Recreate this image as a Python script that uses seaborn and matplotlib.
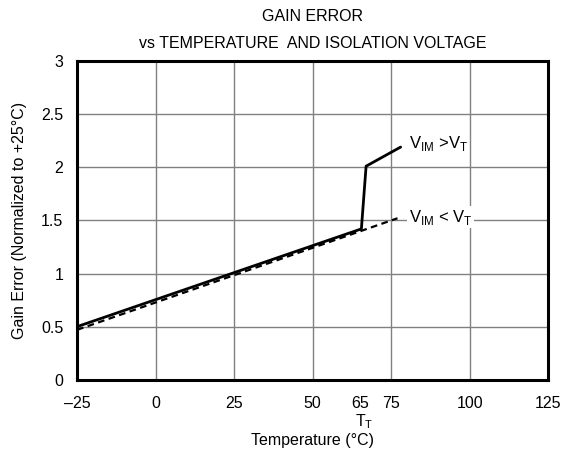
import matplotlib
matplotlib.use('Agg')
import matplotlib.pyplot as plt
import seaborn as sns
import pandas as pd

# solid curve: V_IM > V_T
temp_hi = [-25, 65.5, 67, 78]
gain_hi = [0.50, 1.42, 2.01, 2.19]
# dashed curve: V_IM < V_T
temp_lo = [-25, 77]
gain_lo = [0.47, 1.52]

xticks = [-25, 0, 25, 50, 65, 75, 100, 125]
xtick_labels = ['\u201325', '0', '25', '50', '65', '75', '100', '125']
yticks = [0, 0.5, 1, 1.5, 2, 2.5, 3]
ytick_labels = ['0', '0.5', '1', '1.5', '2', '2.5', '3']

sns.set_theme(style="white")
plt.rcParams['font.family'] = ['Liberation Sans', 'DejaVu Sans']
plt.rcParams['text.color'] = 'black'
plt.rcParams['axes.labelcolor'] = 'black'
plt.rcParams['xtick.color'] = 'black'
plt.rcParams['ytick.color'] = 'black'

fs = 11.5
fig = plt.figure(figsize=(5.67, 4.62), dpi=100)
ax = fig.add_axes([0.136, 0.178, 0.831, 0.69])

df_hi = pd.DataFrame({'t': temp_hi, 'g': gain_hi})
df_lo = pd.DataFrame({'t': temp_lo, 'g': gain_lo})

# grid lines (no line at 65)
for x in [0, 25, 50, 75, 100]:
    ax.axvline(x, color='#808080', lw=1, zorder=1)
for y in [0.5, 1, 1.5, 2, 2.5]:
    ax.axhline(y, color='#808080', lw=1, zorder=1)

sns.lineplot(data=df_hi, x='t', y='g', color='black', lw=2, ax=ax, zorder=3,
             sort=False, estimator=None)
sns.lineplot(data=df_lo, x='t', y='g', color='black', lw=1.6, ax=ax, zorder=3,
             sort=False, estimator=None, linestyle=(0, (3, 2)))

ax.set_xlim(-25, 125)
ax.set_ylim(0, 3)
ax.set_xticks(xticks)
ax.set_xticklabels(xtick_labels, fontsize=fs)
ax.set_yticks(yticks)
ax.set_yticklabels(ytick_labels, fontsize=fs)
ax.tick_params(axis='x', length=0, pad=12)
ax.tick_params(axis='y', length=0, pad=10)
for s in ax.spines.values():
    s.set_linewidth(2.2)
    s.set_color('black')

ax.set_xlabel('')
ax.set_ylabel('Gain Error (Normalized to +25\u00b0C)', fontsize=fs, labelpad=10)
fig.text(0.552, 1 - 441 / 462, 'Temperature (\u00b0C)', fontsize=fs,
         ha='center', va='center')
ax.text(66.5, 0, r'T$_\mathregular{T}$', fontsize=fs, ha='center', va='center',
        transform=ax.get_xaxis_transform() + matplotlib.transforms.ScaledTranslation(
            0, -42 / 100, fig.dpi_scale_trans))

ax.text(80.5, 2.22, r'V$_\mathregular{IM}$ >V$_\mathregular{T}$', fontsize=fs + 0.5,
        ha='left', va='center', zorder=4)
ax.text(80.5, 1.53, r'V$_\mathregular{IM}$ < V$_\mathregular{T}$', fontsize=fs + 0.5,
        ha='left', va='center', zorder=4,
        bbox=dict(facecolor='white', edgecolor='none', pad=1))

ax.set_title('GAIN ERROR\nvs TEMPERATURE  AND ISOLATION VOLTAGE', fontsize=fs,
             pad=9, linespacing=2.0)

fig.savefig('out.png', dpi=100)
